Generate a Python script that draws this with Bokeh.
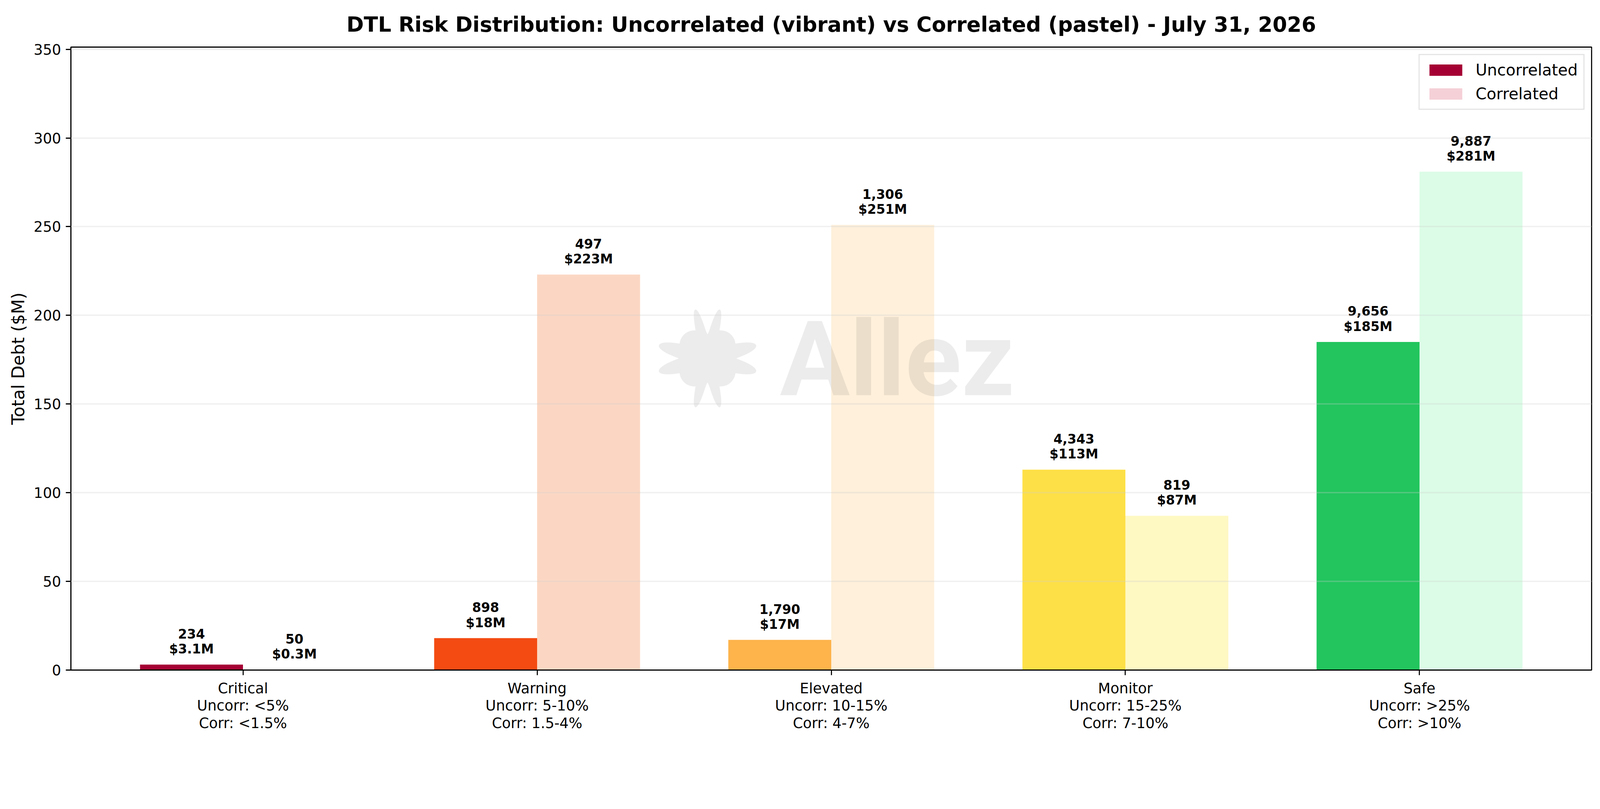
import numpy as np
from bokeh.plotting import figure
from bokeh.models import (ColumnDataSource, Range1d, FixedTicker, Legend, LegendItem)
from bokeh.core.properties import value
from bokeh.embed import file_html
from bokeh.resources import INLINE

# ---------------- data ----------------
categories = ["Critical", "Warning", "Elevated", "Monitor", "Safe"]
uncorr_range = ["<5%", "5-10%", "10-15%", "15-25%", ">25%"]
corr_range = ["<1.5%", "1.5-4%", "4-7%", "7-10%", ">10%"]
uncorr_count = [234, 898, 1790, 4343, 9656]
uncorr_debt = [3.1, 18, 17, 113, 185]
corr_count = [50, 497, 1306, 819, 9887]
corr_debt = [0.3, 223, 251, 87, 281]
vibrant_colors = ["#A50034", "#F34B12", "#FEB34B", "#FDE047", "#22C55E"]
pastel_colors = ["#F5D0D7", "#FBD7C3", "#FEF0DB", "#FEF8C3", "#DCFCE7"]
y_ticks = [0, 50, 100, 150, 200, 250, 300, 350]

TITLE = "DTL Risk Distribution: Uncorrelated (vibrant) vs Correlated (pastel) - July 31, 2026"
FONT = "DejaVu Sans"
BAR_W = 0.35

# layout helpers: reference pixels -> page (CSS) pixels
K = 1 / 1.086
def px(v):
    return v * K
def ipx(v):
    return int(round(v * K))
def fs(v):
    return f"{v * K:.1f}px"

def fmt_debt(d):
    return f"${d:.1f}M" if d < 10 else f"${d:.0f}M"

idx = np.arange(len(categories))
ymax = max(max(uncorr_debt), max(corr_debt)) * 1.25
span = len(categories) - 1 + 2 * BAR_W
x0 = -BAR_W - 0.05 * span
x1 = len(categories) - 1 + BAR_W + 0.05 * span

VW, VH = 4464 * K, 2070 * K
W, H = int(VW - 16), int(VH - 16)
FL, FR, FT, FB = px(205), px(4433), px(139), px(1870)   # frame edges on page
p = figure(width=W, height=H, output_backend="svg", toolbar_location=None,
           x_range=Range1d(x0, x1), y_range=Range1d(0, ymax),
           min_border_left=int(round(FL - 8)), min_border_right=int(round(W + 8 - FR)),
           min_border_top=int(round(FT - 8)), min_border_bottom=int(round(H + 8 - FB)))
p.background_fill_color = "white"
p.border_fill_color = "white"
p.outline_line_color = "black"
p.outline_line_width = px(3)

# title
p.title.text = TITLE
p.title.text_font = FONT
p.title.text_font_size = fs(58)
p.title.text_font_style = "bold"
p.title.align = "center"
p.title.text_color = "black"
p.title.standoff = px(58)

# bars
src_u = ColumnDataSource(dict(x=idx - BAR_W / 2, top=uncorr_debt, color=vibrant_colors,
                              label=[f"{c:,}\n{fmt_debt(d)}" for c, d in zip(uncorr_count, uncorr_debt)]))
src_c = ColumnDataSource(dict(x=idx + BAR_W / 2, top=corr_debt, color=pastel_colors,
                              label=[f"{c:,}\n{fmt_debt(d)}" for c, d in zip(corr_count, corr_debt)]))
r_u = p.vbar(x="x", top="top", bottom=0, width=BAR_W, source=src_u,
             fill_color="color", line_color=None)
r_c = p.vbar(x="x", top="top", bottom=0, width=BAR_W, source=src_c,
             fill_color="color", line_color=None)

for src in (src_u, src_c):
    p.text(x="x", y="top", text="label", source=src, text_font=value(FONT),
           text_font_style="bold", text_font_size=fs(36), text_align="center",
           text_baseline="bottom", y_offset=-px(22), text_color="black",
           text_line_height=0.98)

# watermark (decoration): star icon + "Allez"
ppx = (FR - FL) / (x1 - x0)      # page px per x unit
ppy = (FB - FT) / ymax           # page px per y unit
cx = x0 + px(1975 - 205) / ppx
cy = px(1870 - 1004) / ppy
th = np.linspace(0, 2 * np.pi, 1441)
r = 63 + 30 * np.abs(np.sin(2 * th))
for deg in (76, 104, 256, 284):
    d = np.angle(np.exp(1j * (th - np.radians(deg))))
    r = np.maximum(r, 63 + 77 * np.exp(-0.5 * (d / 0.10) ** 2))
for deg in (15, -15, 165, 195):
    d = np.angle(np.exp(1j * (th - np.radians(deg))))
    r = np.maximum(r, 63 + 77 * np.exp(-0.5 * (d / 0.15) ** 2))
p.patch(cx + px(r) * np.cos(th) / ppx, cy + px(r) * np.sin(th) / ppy,
        fill_color="black", fill_alpha=0.075, line_color=None)
p.text(x=[x0 + px(2176 - 205) / ppx], y=[px(1870 - 1007) / ppy], text=["Allez"],
       text_font=value("Roboto"), text_font_style="bold", text_font_size=fs(290),
       text_align="left", text_baseline="alphabetic", text_color="black",
       text_alpha=0.075)

# grid
p.xgrid.visible = False
p.ygrid.grid_line_color = "#cccccc"
p.ygrid.grid_line_alpha = 0.3
p.ygrid.grid_line_width = px(4)
p.ygrid.level = "guide"
p.ygrid.ticker = FixedTicker(ticks=y_ticks)

# axes
p.yaxis.ticker = FixedTicker(ticks=y_ticks)
p.xaxis.ticker = FixedTicker(ticks=list(idx))
p.xaxis.major_label_overrides = {int(i): f"{c}\nUncorr: {u}\nCorr: {k}"
                                 for i, c, u, k in zip(idx, categories, uncorr_range, corr_range)}
for ax in (p.xaxis[0], p.yaxis[0]):
    ax.axis_line_color = "black"
    ax.axis_line_width = px(3)
    ax.major_tick_line_color = "black"
    ax.major_tick_line_width = px(3)
    ax.major_tick_out = ipx(14)
    ax.major_tick_in = 0
    ax.minor_tick_line_color = None
    ax.major_label_text_font = FONT
    ax.major_label_text_font_size = fs(40)
    ax.major_label_text_color = "black"
    ax.major_label_standoff = ipx(13)
p.yaxis.axis_label = "Total Debt ($M)"
p.yaxis.axis_label_text_font = FONT
p.yaxis.axis_label_text_font_size = fs(48)
p.yaxis.axis_label_text_font_style = "normal"
p.yaxis.axis_label_text_color = "black"
p.yaxis.axis_label_standoff = ipx(12)
p.xaxis.major_label_text_line_height = 1.04

# legend
legend = Legend(items=[LegendItem(label="Uncorrelated", renderers=[r_u], index=0),
                       LegendItem(label="Correlated", renderers=[r_c], index=0)],
                location="top_right", margin=ipx(20), padding=ipx(15),
                spacing=ipx(14),
                glyph_width=ipx(114), glyph_height=ipx(39),
                label_height=ipx(39), label_standoff=ipx(26),
                label_text_font=FONT, label_text_font_size=fs(44),
                label_text_color="black",
                border_line_color="#cccccc", border_line_width=px(4),
                background_fill_color="white", background_fill_alpha=0.8)
p.add_layout(legend)

open("out.html", "w").write(file_html(p, INLINE))
